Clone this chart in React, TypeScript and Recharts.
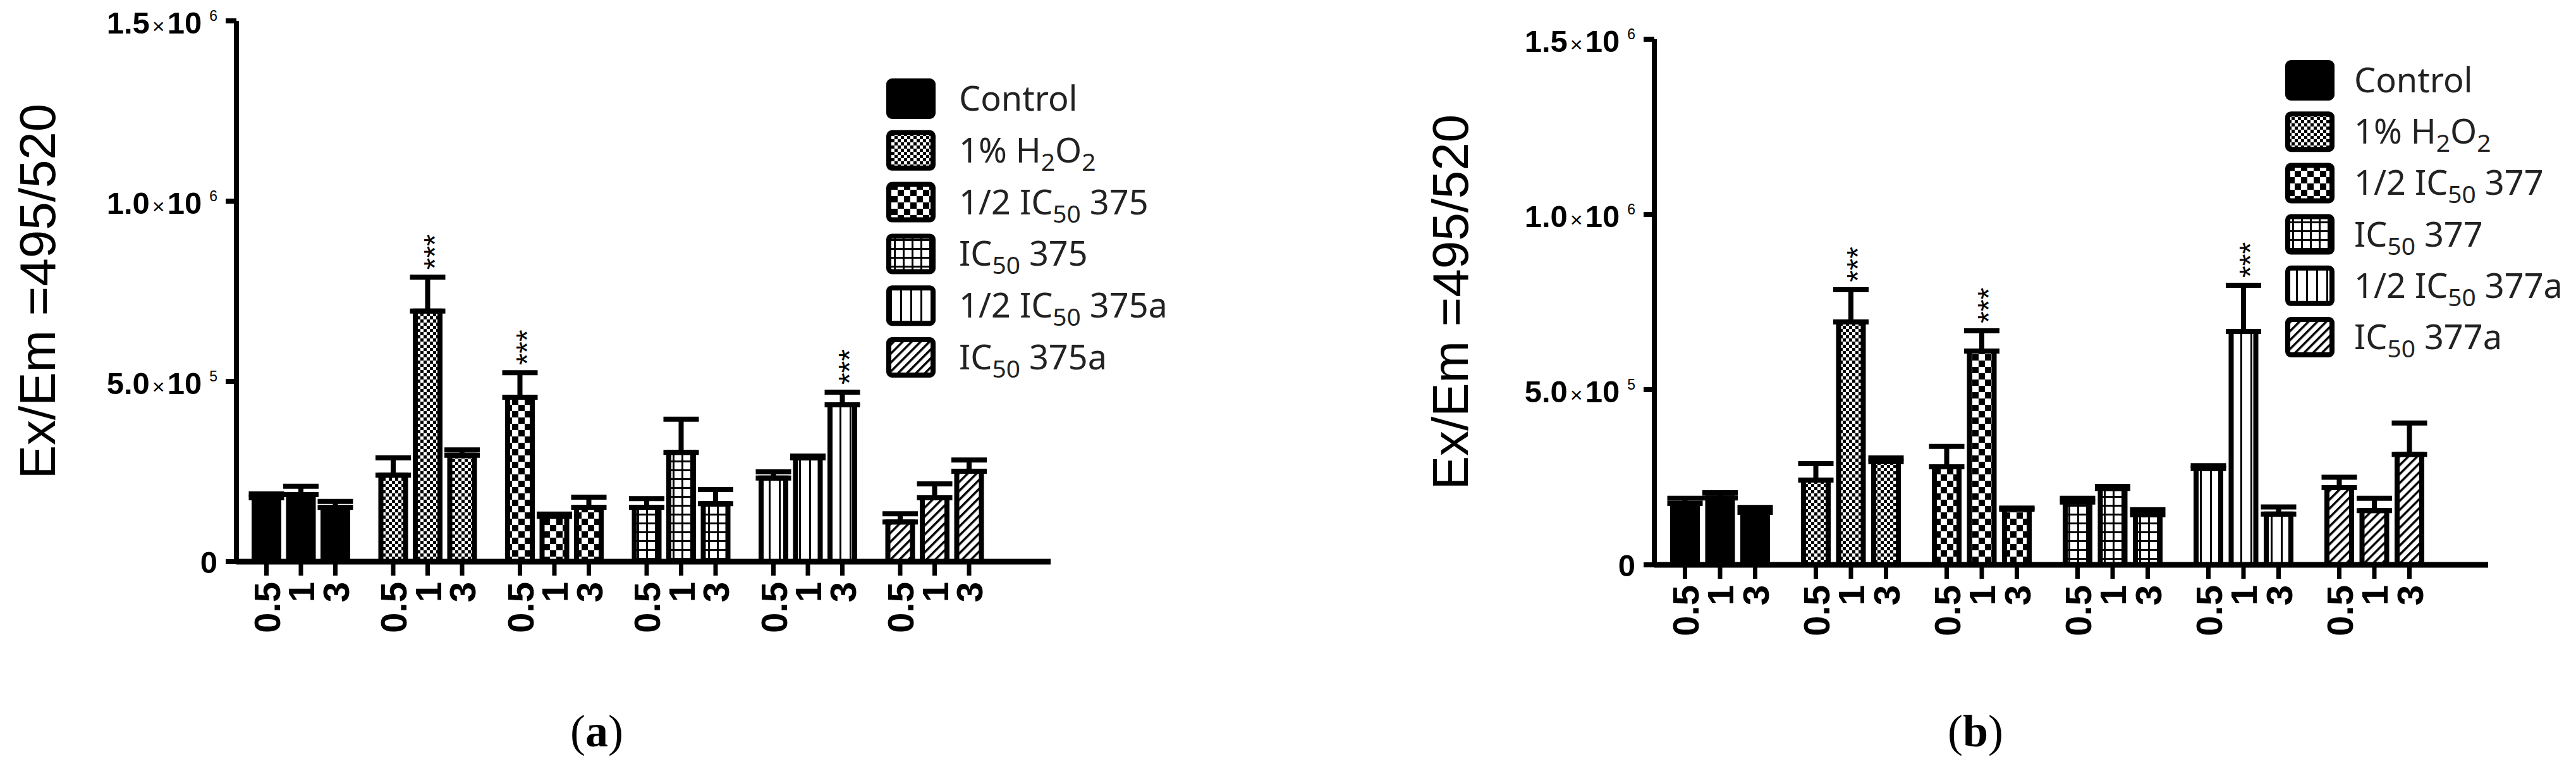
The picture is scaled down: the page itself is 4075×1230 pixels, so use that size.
import React from 'react';
import { BarChart, Bar, XAxis, YAxis, Cell, ErrorBar, LabelList } from 'recharts';

// ---------------- data ----------------
const DOSES = ['0.5', '1', '3'];
const Y_TICKS = [0, 500000, 1000000, 1500000];
const Y_DOMAIN: [number, number] = [0, 1500000];
const Y_TITLE = 'Ex/Em =495/520';

const GROUPS_A = ['Control', '1% H_2O_2', '1/2 IC_50 375', 'IC_50 375', '1/2 IC_50 375a', 'IC_50 375a'];
const A_MEAN_05 = [177000, 240000, 456000, 151000, 232000, 110000];
const A_MEAN_1 = [186000, 695000, 126000, 303000, 288000, 177000];
const A_MEAN_3 = [151000, 295000, 151000, 161000, 435000, 251000];
const A_SEM_05 = [11000, 48000, 68000, 24000, 17000, 23000];
const A_SEM_1 = [23000, 94000, 6000, 92000, 5000, 39000];
const A_SEM_3 = [16000, 15000, 28000, 39000, 35000, 31000];
const A_SIG_05 = ['', '', '***', '', '', ''];
const A_SIG_1 = ['', '***', '', '', '', ''];
const A_SIG_3 = ['', '', '', '', '***', ''];

const GROUPS_B = ['Control', '1% H_2O_2', '1/2 IC_50 377', 'IC_50 377', '1/2 IC_50 377a', 'IC_50 377a'];
const B_MEAN_05 = [175000, 242000, 280000, 179000, 275000, 220000];
const B_MEAN_1 = [191000, 693000, 610000, 218000, 666000, 155000];
const B_MEAN_3 = [150000, 294000, 159000, 143000, 145000, 315000];
const B_SEM_05 = [15000, 47000, 58000, 11000, 8000, 30000];
const B_SEM_1 = [15000, 92000, 58000, 6000, 132000, 35000];
const B_SEM_3 = [14000, 11000, 3000, 14000, 20000, 90000];
const B_SIG_05 = ['', '', '', '', '', ''];
const B_SIG_1 = ['', '***', '***', '', '***', ''];
const B_SIG_3 = ['', '', '', '', '', ''];

// ---------------- styling ----------------
const SANS = "'Liberation Sans', Arial, Helvetica, sans-serif";
const LEGEND_FONT = "'Noto Sans', 'Open Sans', sans-serif";
const SERIF = "'Liberation Serif', 'DejaVu Serif', serif";

function Patterns({ id }: { id: string }) {
  return (
    <defs>
      <pattern id={`${id}-p1`} width="10" height="10" patternUnits="userSpaceOnUse">
        <rect width="10" height="10" fill="#fff" />
        <rect width="5" height="5" fill="#000" />
        <rect x="5" y="5" width="5" height="5" fill="#000" />
      </pattern>
      <pattern id={`${id}-p2`} width="20" height="20" patternUnits="userSpaceOnUse">
        <rect width="20" height="20" fill="#fff" />
        <rect width="10" height="10" fill="#000" />
        <rect x="10" y="10" width="10" height="10" fill="#000" />
      </pattern>
      <pattern id={`${id}-p3`} width="14" height="14" patternUnits="userSpaceOnUse">
        <rect width="14" height="14" fill="#fff" />
        <rect x="0" y="0" width="3" height="14" fill="#000" />
        <rect x="0" y="0" width="14" height="3" fill="#000" />
      </pattern>
      <pattern id={`${id}-p4`} width="16" height="16" patternUnits="userSpaceOnUse">
        <rect width="16" height="16" fill="#fff" />
        <rect x="0" y="0" width="3" height="16" fill="#000" />
      </pattern>
      <pattern id={`${id}-p5`} width="10" height="10" patternUnits="userSpaceOnUse" patternTransform="rotate(45)">
        <rect width="10" height="10" fill="#fff" />
        <rect x="0" y="0" width="3.5" height="10" fill="#000" />
      </pattern>
    </defs>
  );
}

const fillFor = (id: string, i: number) => (i === 0 ? '#000' : `url(#${id}-p${i})`);

function rich(s: string, subDy: number) {
  const parts = s.split(/_(\d+)/);
  const out: any[] = [];
  let shifted = false;
  parts.forEach((p, k) => {
    if (!p) return;
    if (k % 2 === 1) {
      out.push(
        <tspan key={k} fontSize="0.72em" dy={shifted ? 0 : subDy}>
          {p}
        </tspan>
      );
      shifted = true;
    } else {
      out.push(
        <tspan key={k} dy={shifted ? -subDy : 0}>
          {p}
        </tspan>
      );
      shifted = false;
    }
  });
  return out;
}

function YTick(props: any) {
  const { x, y, payload } = props;
  const v = Number(payload.value);
  if (v === 0) {
    return (
      <text x={x} y={y + 18} textAnchor="end" fontSize={49} fontWeight={700} fontFamily={SANS} fill="#000">
        0
      </text>
    );
  }
  const exp = Math.floor(Math.log10(v) + 1e-9);
  const mant = (v / Math.pow(10, exp)).toFixed(1);
  return (
    <text x={x} y={y + 20} textAnchor="end" fontSize={49} fontWeight={700} fontFamily={SANS} fill="#000">
      <tspan>{mant}</tspan>
      <tspan fontSize={34} fontWeight={400} dx={4}>
        ×
      </tspan>
      <tspan dx={4}>10</tspan>
      <tspan fontSize={23} fontWeight={400} dx={12} dy={-20}>
        {exp}
      </tspan>
    </text>
  );
}

function YTitle({ cx, cy }: any) {
  return (
    <text transform={`translate(${cx},${cy}) rotate(-90)`} textAnchor="middle" fontSize={80} fontFamily={SANS} fill="#000">
      {Y_TITLE}
    </text>
  );
}

const makeDoseLabel = (dose: string, sems: number[], sigs: string[]) => (props: any) => {
  const vb = props.viewBox && props.viewBox.width != null ? props.viewBox : props;
  const x = Number(vb.x);
  const y = Number(vb.y);
  const width = Number(vb.width);
  const height = Number(vb.height);
  const idx = Number(props.index);
  const value = Number(props.value);
  const cx = x + width / 2;
  const base = y + height;
  const sig = sigs[idx];
  let stars: any = null;
  if (sig && value > 0) {
    const capY = y - (sems[idx] * height) / value;
    stars = (
      <text
        transform={`translate(${cx + 27},${capY - 12}) rotate(-90)`}
        textAnchor="start"
        fontSize={48}
        fontFamily={SANS}
        fill="#000"
      >
        {sig}
      </text>
    );
  }
  return (
    <g>
      <line x1={cx} x2={cx} y1={base} y2={base + 22} stroke="#000" strokeWidth={7} />
      <text
        transform={`translate(${cx + 21},${base + 32}) rotate(-90)`}
        textAnchor="end"
        fontSize={58}
        fontWeight={700}
        fontFamily={SANS}
        fill="#000"
      >
        {dose}
      </text>
      {stars}
    </g>
  );
};

type PanelCfg = {
  id: string;
  groups: string[];
  means: number[][];
  sems: number[][];
  sigs: string[][];
  left: number;
  width: number;
  top: number;
  zeroY: number;
  yAxisWidth: number;
  marginRight: number;
  padL: number;
  padR: number;
  barGap: number;
  titleX: number;
};

const PANEL_A: PanelCfg = {
  id: 'A',
  groups: GROUPS_A,
  means: [A_MEAN_05, A_MEAN_1, A_MEAN_3],
  sems: [A_SEM_05, A_SEM_1, A_SEM_3],
  sigs: [A_SIG_05, A_SIG_1, A_SIG_3],
  left: 0,
  width: 2040,
  top: 33,
  zeroY: 888,
  yAxisWidth: 374,
  marginRight: 378,
  padL: 2,
  padR: 83,
  barGap: 15.5,
  titleX: 87,
};

const PANEL_B: PanelCfg = {
  id: 'B',
  groups: GROUPS_B,
  means: [B_MEAN_05, B_MEAN_1, B_MEAN_3],
  sems: [B_SEM_05, B_SEM_1, B_SEM_3],
  sigs: [B_SIG_05, B_SIG_1, B_SIG_3],
  left: 2040,
  width: 2035,
  top: 62,
  zeroY: 893,
  yAxisWidth: 577,
  marginRight: 139,
  padL: 0,
  padR: 77,
  barGap: 16.5,
  titleX: 282,
};

const X_AXIS_HEIGHT = 200;
const FULL_H = 1230;

function Panel({ cfg }: { cfg: PanelCfg }) {
  const data = cfg.groups.map((g, i) => {
    const row: any = { group: g };
    DOSES.forEach((_, j) => {
      row[`m${j}`] = cfg.means[j][i];
      row[`e${j}`] = [0, cfg.sems[j][i]];
    });
    return row;
  });
  return (
    <div style={{ position: 'absolute', left: cfg.left, top: 0 }}>
      <BarChart
        width={cfg.width}
        height={FULL_H}
        data={data}
        margin={{ top: cfg.top, right: cfg.marginRight, left: 0, bottom: FULL_H - cfg.zeroY - X_AXIS_HEIGHT }}
        barGap={cfg.barGap}
        barSize={39}
      >
        <Patterns id={cfg.id} />
        <XAxis
          dataKey="group"
          tick={false}
          tickLine={false}
          axisLine={{ stroke: '#000', strokeWidth: 9 }}
          padding={{ left: cfg.padL, right: cfg.padR }}
          height={X_AXIS_HEIGHT}
        />
        <YAxis
          width={cfg.yAxisWidth}
          domain={Y_DOMAIN}
          ticks={Y_TICKS}
          interval={0}
          tickSize={17}
          tickMargin={13}
          tickLine={{ stroke: '#000', strokeWidth: 8 }}
          axisLine={{ stroke: '#000', strokeWidth: 8 }}
          tick={<YTick />}
          label={<YTitle cx={cfg.titleX} cy={(cfg.top + cfg.zeroY) / 2} />}
        />
        {DOSES.map((dose, j) => (
          <Bar key={dose} dataKey={`m${j}`} isAnimationActive={false} stroke="#000" strokeWidth={8} barSize={39}>
            {data.map((_, i) => (
              <Cell key={i} fill={fillFor(cfg.id, i)} />
            ))}
            <ErrorBar dataKey={`e${j}`} width={28} strokeWidth={8} stroke="#000" isAnimationActive={false} />
            <LabelList dataKey={`m${j}`} content={makeDoseLabel(dose, cfg.sems[j], cfg.sigs[j])} />
          </Bar>
        ))}
      </BarChart>
    </div>
  );
}

function LegendBlock({ groups, boxX, y0, pitch, textX }: { groups: string[]; boxX: number; y0: number; pitch: number; textX: number }) {
  return (
    <g>
      {groups.map((g, i) => {
        const cy = y0 + i * pitch;
        return (
          <g key={i}>
            <rect x={boxX + 4} y={cy - 28} width={70} height={56} rx={5} fill={fillFor('L', i)} stroke="#000" strokeWidth={8} />
            <text x={textX} y={cy + 19} fontSize={54} fontFamily={LEGEND_FONT} fill="#222">
              {rich(g, 13)}
            </text>
          </g>
        );
      })}
    </g>
  );
}

export default function App() {
  return (
    <div style={{ position: 'absolute', left: 0, top: 0, width: 4075, height: FULL_H, background: '#fff', overflow: 'hidden' }}>
      <Panel cfg={PANEL_A} />
      <Panel cfg={PANEL_B} />
      <svg style={{ position: 'absolute', left: 0, top: 0 }} width={4075} height={FULL_H}>
        <Patterns id="L" />
        <LegendBlock groups={GROUPS_A} boxX={1402} y0={156} pitch={81.8} textX={1517} />
        <LegendBlock groups={GROUPS_B} boxX={3615} y0={127} pitch={81.2} textX={3724} />
        <text x={944} y={1180} textAnchor="middle" fontSize={72} fontFamily={SERIF} fill="#000">
          (<tspan fontWeight={700}>a</tspan>)
        </text>
        <text x={3125} y={1180} textAnchor="middle" fontSize={72} fontFamily={SERIF} fill="#000">
          (<tspan fontWeight={700}>b</tspan>)
        </text>
      </svg>
    </div>
  );
}
